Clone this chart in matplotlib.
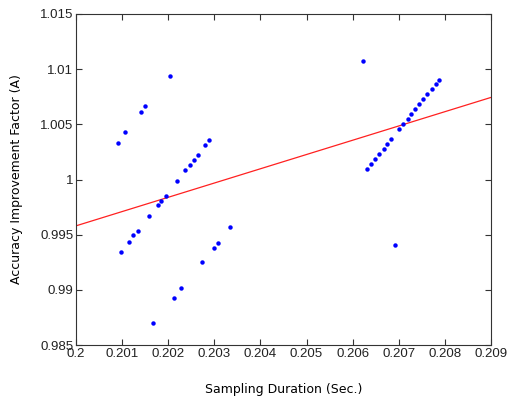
import matplotlib
matplotlib.use("Agg")
import matplotlib.pyplot as plt

# Scatter data: sampling duration (s) vs accuracy improvement factor
x_vals = [0.20090, 0.20106, 0.20142, 0.20150, 0.20204,
          0.20289, 0.20280, 0.20265, 0.20256, 0.20247, 0.20237, 0.20219,
          0.20195, 0.20185, 0.20178, 0.20158, 0.20134, 0.20124, 0.20116, 0.20098,
          0.20335, 0.20307, 0.20299, 0.20273, 0.20227, 0.20213, 0.20166,
          0.20622, 0.20788, 0.20780, 0.20772, 0.20761, 0.20752, 0.20743,
          0.20735, 0.20727, 0.20719, 0.20710, 0.20700, 0.20683, 0.20675,
          0.20667, 0.20658, 0.20648, 0.20639, 0.20631, 0.20691]
y_vals = [1.00332, 1.00432, 1.00616, 1.00662, 1.00941,
          1.00359, 1.00311, 1.00223, 1.00180, 1.00132, 1.00086, 0.99989,
          0.99850, 0.99805, 0.99765, 0.99668, 0.99535, 0.99493, 0.99435, 0.99347,
          0.99565, 0.99429, 0.99380, 0.99250, 0.99020, 0.98929, 0.98702,
          1.01071, 1.00905, 1.00862, 1.00823, 1.00775, 1.00729, 1.00684,
          1.00638, 1.00595, 1.00544, 1.00502, 1.00456, 1.00371, 1.00320,
          1.00275, 1.00232, 1.00186, 1.00138, 1.00093, 0.99407]

# Linear fit line endpoints
fit_x = [0.200, 0.209]
fit_y = [0.99580, 1.00744]

x_ticks = [0.2, 0.201, 0.202, 0.203, 0.204, 0.205, 0.206, 0.207, 0.208, 0.209]
x_tick_labels = ["0.2", "0.201", "0.202", "0.203", "0.204", "0.205", "0.206", "0.207", "0.208", "0.209"]
y_ticks = [0.985, 0.99, 0.995, 1.0, 1.005, 1.01, 1.015]
y_tick_labels = ["0.985", "0.99", "0.995", "1", "1.005", "1.01", "1.015"]

fig = plt.figure(figsize=(5.08, 4.01), dpi=100)
ax = fig.add_axes([76/508, 1 - 345/401, (491-76)/508, (345-14)/401])

ax.plot(fit_x, fit_y, color="#ff2020", linewidth=0.9, zorder=2)
ax.plot(x_vals, y_vals, linestyle="none", marker="o", markersize=3.2,
        color="#0000ff", markeredgewidth=0, zorder=3)

ax.set_xlim(0.2, 0.209)
ax.set_ylim(0.985, 1.015)
ax.set_xticks(x_ticks)
ax.set_xticklabels(x_tick_labels)
ax.set_yticks(y_ticks)
ax.set_yticklabels(y_tick_labels)

for s in ax.spines.values():
    s.set_color("#333333")
    s.set_linewidth(0.8)
ax.tick_params(direction="in", length=4, width=0.8, color="#333333",
               top=True, right=True, labelsize=9.5, labelcolor="#222222", pad=2)
for lab in ax.get_xticklabels() + ax.get_yticklabels():
    lab.set_family("Liberation Sans")

ax.set_xlabel("Sampling Duration (Sec.)", fontsize=9, family="DejaVu Sans", labelpad=17)
ax.set_ylabel("Accuracy Improvement Factor (A)", fontsize=9, family="DejaVu Sans", labelpad=12)

fig.savefig("out.png", dpi=100)
